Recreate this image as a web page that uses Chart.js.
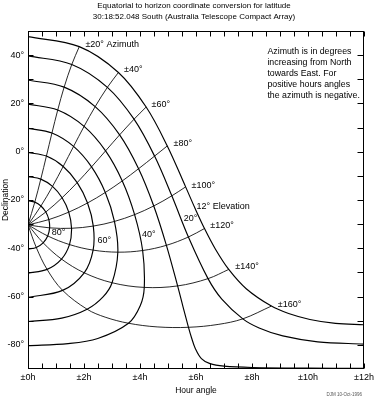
<!DOCTYPE html>
<html><head><meta charset="utf-8">
<script src="https://cdn.jsdelivr.net/npm/chart.js@4/dist/chart.umd.min.js"></script>
<style>html,body{margin:0;padding:0;background:#fff;}canvas{display:block;}</style>
</head><body>
<canvas id="c" width="377" height="399"></canvas>
<script>
// ---- text ----
const titleLines = ['Equatorial to horizon coordinate conversion for latitude',
                    '30:18:52.048 South (Australia Telescope Compact Array)'];
const noteLines = ['Azimuth is in degrees', 'increasing from North', 'towards East. For',
                   'positive hours angles', 'the azimuth is negative.'];
const footnote = 'DJM 10-Oct-1996';
const hourTicks = [0, 2, 4, 6, 8, 10, 12];
const decTicks = [-80, -60, -40, -20, 0, 20, 40];

// ---- curves of constant elevation: [hour angle (h), declination (deg)] ----
const elev80 = [[0,-20.31],[0.243,-20.87],[0.462,-22.47],[0.637,-24.97],[0.745,-28.11],[0.772,-31.54],[0.704,-34.89],[0.541,-37.73],[0.295,-39.64],[0,-40.31]];
const elev70 = [[0,-10.31],[0.457,-11.35],[0.875,-14.37],[1.217,-19.07],[1.455,-25.03],[1.555,-31.71],[1.481,-38.46],[1.196,-44.47],[0.681,-48.74],[0,-50.31]];
const elev60 = [[0,-0.31],[0.657,-1.81],[1.257,-6.11],[1.757,-12.79],[2.126,-21.23],[2.332,-30.80],[2.325,-40.76],[2.007,-50.15],[1.235,-57.43],[0,-60.31]];
const elev50 = [[0,9.69],[0.855,7.75],[1.628,2.20],[2.270,-6.27],[2.761,-16.88],[3.087,-28.88],[3.208,-41.61],[3.002,-54.27],[2.680,-60.14],[2.111,-65.25],[1.206,-68.92],[0,-70.31]];
const elev40 = [[0,19.69],[1.062,17.28],[2.003,10.50],[2.771,0.36],[3.367,-12.10],[3.807,-26.06],[4.094,-40.93],[4.152,-56.21],[4.008,-63.79],[3.589,-71.05],[2.492,-77.35],[1.432,-79.50],[0,-80.31]];
const elev30 = [[0,29.69],[1.291,26.75],[2.399,18.68],[3.272,6.98],[3.949,-7.04],[4.491,-22.47],[4.943,-38.77],[5.343,-55.59],[5.534,-64.14],[5.731,-72.73],[5.840,-77.04],[5.971,-81.36],[6.193,-85.67],[6.5,-87.78],[7,-88.81],[8,-89.37],[10,-89.64],[12,-89.69]];
const elev20 = [[0,39.69],[1.563,36.13],[2.835,26.67],[3.787,13.47],[4.520,-1.82],[5.136,-18.27],[5.728,-35.33],[6.429,-52.57],[6.921,-61.06],[7.672,-69.22],[8.254,-72.98],[9.099,-76.30],[10.347,-78.74],[12,-79.69]];
const elev12 = [[0,47.69],[1.831,43.52],[3.229,32.81],[4.219,18.50],[4.974,2.39],[5.629,-14.57],[5.956,-23.19],[6.303,-31.81],[6.695,-40.37],[7.169,-48.75],[7.793,-56.74],[8.691,-63.95],[9.307,-67.01],[10.068,-69.48],[10.982,-71.11],[12,-71.69]];

// ---- curves of constant azimuth (zenith -> 12 deg elevation) ----
const az20  = [[0,-30.31],[0.243,-20.87],[0.457,-11.35],[0.657,-1.81],[0.855,7.75],[1.062,17.28],[1.291,26.75],[1.563,36.13],[1.831,43.52]];
const az40  = [[0,-30.31],[0.462,-22.47],[0.875,-14.37],[1.257,-6.11],[1.628,2.20],[2.003,10.50],[2.399,18.68],[2.835,26.67],[3.229,32.81]];
const az60  = [[0,-30.31],[0.637,-24.97],[1.217,-19.07],[1.757,-12.79],[2.270,-6.27],[2.771,0.36],[3.272,6.98],[3.787,13.47],[4.219,18.50]];
const az80  = [[0,-30.31],[0.745,-28.11],[1.455,-25.03],[2.126,-21.23],[2.761,-16.88],[3.367,-12.10],[3.949,-7.04],[4.520,-1.82],[4.974,2.39]];
const az100 = [[0,-30.31],[0.772,-31.54],[1.555,-31.71],[2.332,-30.80],[3.087,-28.88],[3.807,-26.06],[4.491,-22.47],[5.136,-18.27],[5.629,-14.57]];
const az120 = [[0,-30.31],[0.704,-34.89],[1.481,-38.46],[2.325,-40.76],[3.208,-41.61],[4.094,-40.93],[4.943,-38.77],[5.728,-35.33],[6.303,-31.81]];
const az140 = [[0,-30.31],[0.541,-37.73],[1.196,-44.47],[2.007,-50.15],[3.002,-54.27],[4.152,-56.21],[5.343,-55.59],[6.429,-52.57],[7.169,-48.75]];
const az160 = [[0,-30.31],[0.295,-39.64],[0.681,-48.74],[1.235,-57.43],[2.111,-65.25],[2.755,-68.52],[3.589,-71.05],[4.611,-72.56],[5.731,-72.73],[6.790,-71.54],[7.672,-69.22],[8.691,-63.95]];

// ---- curve labels: text and anchor (hour angle, declination) ----
const labelTexts = ['±20° Azimuth','±40°','±60°','±80°','±100°','12° Elevation','20°','±120°','±140°','±160°','80°','60°','40°'];
const labelHours = [2.05, 3.43, 4.41, 5.20, 5.84, 6.02, 5.56, 6.51, 7.40, 8.92, 0.85, 2.48, 4.07];
const labelDecs  = [44.4, 34.2, 19.7, 3.2, -13.8, -22.7, -27.6, -30.6, -47.5, -63.1, -33.5, -36.6, -34.5];
const noteAnchor = [8.55, 41.4];

const FONT = "'Liberation Sans', Arial, Helvetica, sans-serif";
Chart.defaults.font.family = FONT;
Chart.defaults.color = '#000';

const elevCurves = [elev12, elev20, elev30, elev40, elev50, elev60, elev70, elev80];
const azCurves = [az20, az40, az60, az80, az100, az120, az140, az160];
const mk = (pts, w) => ({
  data: pts.map(p => ({x: p[0], y: p[1]})),
  showLine: true, borderColor: '#000', borderWidth: w,
  pointRadius: 0, pointHoverRadius: 0, tension: 0.35, fill: false
});

const decor = {
  id: 'decor',
  afterDraw(chart) {
    const ctx = chart.ctx, a = chart.chartArea;
    const xs = chart.scales.x, ys = chart.scales.y;
    ctx.save();
    ctx.strokeStyle = '#000'; ctx.lineWidth = 1;
    const L = Math.round(a.left) + 0.5, R = Math.round(a.right) - 0.5;
    const T = Math.round(a.top) + 0.5, B = Math.round(a.bottom) - 0.5;
    ctx.strokeRect(L, T, R - L, B - T);
    ctx.beginPath();
    for (let h = 0; h <= 12; h += 0.5) {
      const x = Math.round(xs.getPixelForValue(h)) + 0.5;
      ctx.moveTo(x, B); ctx.lineTo(x, B - 5);
      ctx.moveTo(x, T); ctx.lineTo(x, T + 5);
    }
    for (let d = -80; d <= 40; d += 10) {
      const y = Math.round(ys.getPixelForValue(d)) + 0.5;
      ctx.moveTo(L, y); ctx.lineTo(L + 5, y);
      ctx.moveTo(R, y); ctx.lineTo(R - 6, y);
    }
    ctx.stroke();
    // curve labels
    ctx.fillStyle = '#000';
    ctx.textBaseline = 'middle'; ctx.textAlign = 'left';
    ctx.font = '9px ' + FONT;
    labelTexts.forEach((t, i) => {
      ctx.fillText(t, xs.getPixelForValue(labelHours[i]), ys.getPixelForValue(labelDecs[i]));
    });
    // note
    ctx.font = '8.8px ' + FONT;
    const nx = xs.getPixelForValue(noteAnchor[0]), ny = ys.getPixelForValue(noteAnchor[1]);
    noteLines.forEach((t, i) => ctx.fillText(t, nx, ny + i * 11));
    // title
    ctx.textAlign = 'center';
    ctx.font = '8px ' + FONT;
    const cx = (a.left + a.right) / 2;
    titleLines.forEach((t, i) => ctx.fillText(t, cx - 2, 6 + i * 11));
    // footnote
    ctx.textAlign = 'right'; ctx.fillStyle = '#555';
    ctx.font = '4.5px ' + FONT;
    ctx.fillText(footnote, 362, 395);
    ctx.restore();
  }
};

new Chart(document.getElementById('c'), {
  type: 'scatter',
  data: { datasets: [...elevCurves.map(c => mk(c, 1.15)), ...azCurves.map(c => mk(c, 0.85))] },
  options: {
    responsive: false, animation: false, devicePixelRatio: 1,
    layout: { padding: { top: 31, right: 10, left: 0, bottom: 0 } },
    plugins: { legend: { display: false }, tooltip: { enabled: false }, title: { display: false } },
    events: [],
    scales: {
      x: {
        type: 'linear', min: 0, max: 12,
        afterBuildTicks: s => { s.ticks = hourTicks.map(v => ({ value: v })); },
        afterFit: s => { s.height = 30; },
        grid: { display: false, drawTicks: false }, border: { display: false },
        ticks: { padding: 3, autoSkip: false, maxRotation: 0, font: { size: 9 }, callback: v => '±' + v + 'h' },
        title: { display: true, text: 'Hour angle', font: { size: 8.5 }, padding: { top: 0, bottom: 3 } }
      },
      y: {
        type: 'linear', min: -90, max: 50,
        afterBuildTicks: s => { s.ticks = decTicks.map(v => ({ value: v })); },
        afterFit: s => { s.width = 28; },
        grid: { display: false, drawTicks: false }, border: { display: false },
        ticks: { padding: 4, autoSkip: false, font: { size: 9 }, callback: v => v + '°' },
        title: { display: true, text: 'Declination', font: { size: 8.5 }, padding: { top: 1, bottom: 0 } }
      }
    }
  },
  plugins: [decor]
});
</script>
</body></html>
